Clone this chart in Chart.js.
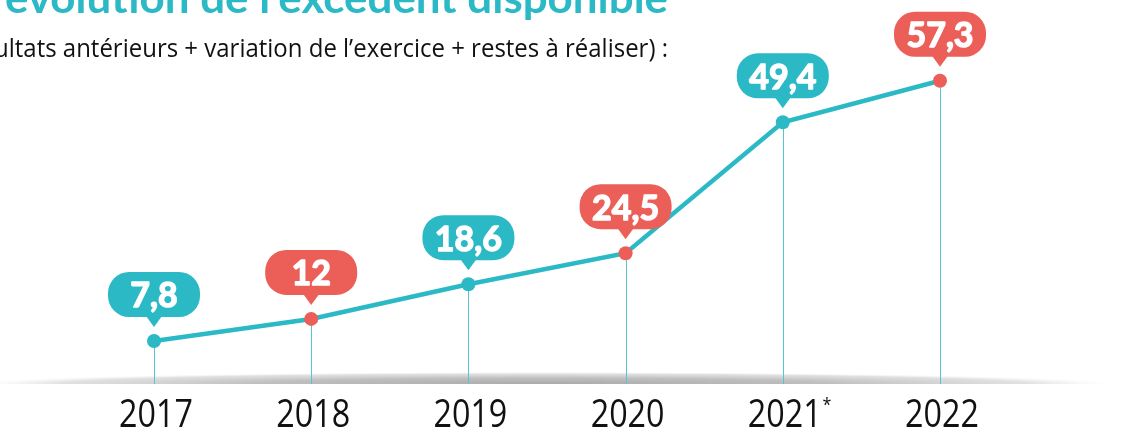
<!DOCTYPE html>
<html>
<head>
<meta charset="utf-8">
<script src="https://cdn.jsdelivr.net/npm/chart.js@4/dist/chart.umd.min.js"></script>
<style>
  html, body { margin: 0; padding: 0; background: #ffffff; overflow: hidden; }
  #wrap { position: relative; width: 1121px; height: 430px; }
  canvas { display: block; }
</style>
</head>
<body>
<div id="wrap"><canvas id="c" width="1121" height="430"></canvas></div>
<script>
// ---- data ----
const categories = ['2017', '2018', '2019', '2020', '2021', '2022'];
const values = [7.8, 12, 18.6, 24.5, 49.4, 57.3];
const valueLabels = ['7,8', '12', '18,6', '24,5', '49,4', '57,3'];
const footnoteMarks = ['', '', '', '', '*', ''];
const titleText = 'évolution de l’excédent disponible';
const subtitleHidden = '(rés';
const subtitleVisible = 'ultats antérieurs + variation de l’exercice + restes à réaliser) :';

// ---- styles ----
const TEAL = '#2cb9c6';
const RED = '#ec5f59';
const pointColors = values.map((v, i) => (i % 2 === 0 ? TEAL : RED));

function roundRect(ctx, x, y, w, h, r) {
  ctx.beginPath();
  ctx.moveTo(x + r, y);
  ctx.lineTo(x + w - r, y);
  ctx.arcTo(x + w, y, x + w, y + r, r);
  ctx.lineTo(x + w, y + h - r);
  ctx.arcTo(x + w, y + h, x + w - r, y + h, r);
  ctx.lineTo(x + r, y + h);
  ctx.arcTo(x, y + h, x, y + h - r, r);
  ctx.lineTo(x, y + r);
  ctx.arcTo(x, y, x + r, y, r);
  ctx.closePath();
}

const decorPlugin = {
  id: 'decor',
  beforeDatasetsDraw(chart) {
    const ctx = chart.ctx;
    const yScale = chart.scales.y;
    const baseY = yScale.getPixelForValue(0) + 2;
    // baseline shadow
    ctx.save();
    ctx.translate(545, baseY);
    ctx.scale(1, 12 / 570);
    const g = ctx.createRadialGradient(0, 0, 0, 0, 0, 570);
    g.addColorStop(0, 'rgba(165,165,165,0.95)');
    g.addColorStop(0.5, 'rgba(180,180,180,0.85)');
    g.addColorStop(0.85, 'rgba(205,205,205,0.6)');
    g.addColorStop(1, 'rgba(235,235,235,0)');
    ctx.fillStyle = g;
    ctx.fillRect(-570, -570, 1140, 570);
    ctx.restore();
    // drop lines
    const meta = chart.getDatasetMeta(0);
    ctx.save();
    ctx.strokeStyle = '#58c4cf';
    ctx.lineWidth = 1;
    meta.data.forEach((pt) => {
      const x = Math.round(pt.x) + 0.5;
      ctx.beginPath();
      ctx.moveTo(x, pt.y);
      ctx.lineTo(x, baseY);
      ctx.stroke();
    });
    ctx.restore();
  },
  afterDatasetsDraw(chart) {
    const ctx = chart.ctx;
    const meta = chart.getDatasetMeta(0);
    const yScale = chart.scales.y;
    const baseY = yScale.getPixelForValue(0);
    // bubbles
    meta.data.forEach((pt, i) => {
      const w = 92, h = 45, r = 21;
      const bx = pt.x - w / 2;
      const by = pt.y - 24 - h;
      ctx.save();
      ctx.fillStyle = pointColors[i];
      roundRect(ctx, bx, by, w, h, r);
      ctx.fill();
      ctx.beginPath();
      ctx.moveTo(pt.x - 8, by + h - 1);
      ctx.lineTo(pt.x + 8, by + h - 1);
      ctx.lineTo(pt.x, by + h + 10);
      ctx.closePath();
      ctx.fill();
      ctx.fillStyle = '#ffffff';
      ctx.strokeStyle = '#ffffff';
      ctx.lineWidth = 1.4;
      ctx.lineJoin = 'round';
      ctx.font = 'bold 34px Lato, "Open Sans", sans-serif';
      ctx.textAlign = 'center';
      ctx.textBaseline = 'alphabetic';
      ctx.fillText(valueLabels[i], pt.x, by + h / 2 + 13);
      ctx.strokeText(valueLabels[i], pt.x, by + h / 2 + 13);
      ctx.restore();
    });
    // x labels
    meta.data.forEach((pt, i) => {
      ctx.save();
      ctx.fillStyle = '#111111';
      ctx.textBaseline = 'alphabetic';
      ctx.textAlign = 'center';
      ctx.translate(pt.x + 2, baseY + 45);
      ctx.scale(0.85, 1);
      ctx.font = '400 38px "Open Sans", sans-serif';
      ctx.fillText(categories[i], 0, 0);
      if (footnoteMarks[i]) {
        const tw = ctx.measureText(categories[i]).width;
        ctx.font = '400 19px "Open Sans", sans-serif';
        ctx.textAlign = 'left';
        ctx.fillText(footnoteMarks[i], tw / 2 + 1, -16);
      }
      ctx.restore();
    });
    // title
    ctx.save();
    ctx.fillStyle = TEAL;
    ctx.font = 'bold 42px Lato, "Open Sans", sans-serif';
    ctx.textAlign = 'left';
    ctx.textBaseline = 'alphabetic';
    const tW = ctx.measureText(titleText).width;
    ctx.translate(5, 13);
    ctx.scale(663 / tW, 1);
    ctx.fillText(titleText, 0, 0);
    ctx.restore();
    // subtitle
    ctx.save();
    ctx.fillStyle = '#111111';
    ctx.font = '26px "Open Sans", sans-serif';
    ctx.textAlign = 'right';
    ctx.textBaseline = 'alphabetic';
    const sW = ctx.measureText(subtitleVisible).width;
    ctx.translate(668, 57);
    ctx.scale(674 / sW, 1);
    ctx.fillText(subtitleHidden + subtitleVisible, 0, 0);
    ctx.restore();
  }
};

new Chart(document.getElementById('c'), {
  type: 'line',
  data: {
    labels: categories,
    datasets: [{
      data: values,
      borderColor: TEAL,
      borderWidth: 4.5,
      pointRadius: 7,
      pointHoverRadius: 7,
      pointBackgroundColor: pointColors,
      pointBorderColor: pointColors,
      pointBorderWidth: 0,
      tension: 0,
      fill: false
    }]
  },
  options: {
    responsive: false,
    animation: false,
    devicePixelRatio: 1,
    layout: { padding: { left: 154, right: 181, top: 14, bottom: 48 } },
    plugins: { legend: { display: false }, tooltip: { enabled: false }, title: { display: false } },
    scales: {
      x: { type: 'category', offset: false, display: false },
      y: { min: 0, max: 70, display: false }
    }
  },
  plugins: [decorPlugin]
});
</script>
</body>
</html>
